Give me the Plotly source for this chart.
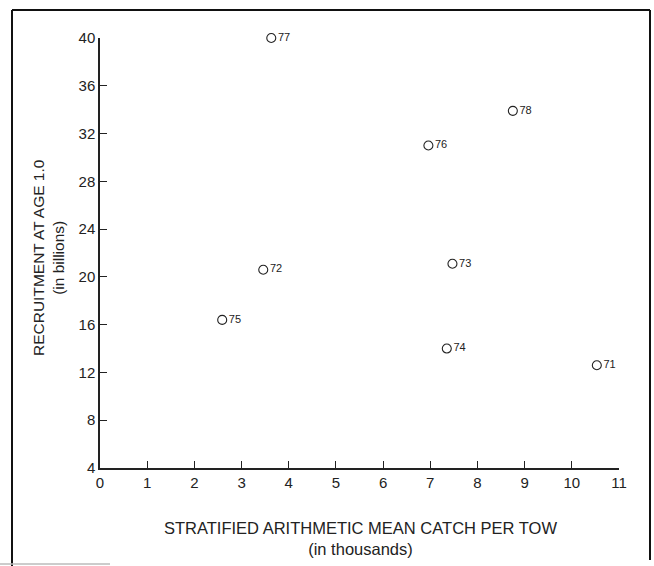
import plotly.graph_objects as go

years = ["71", "72", "73", "74", "75", "76", "77", "78"]
catch_per_tow = [10.53, 3.46, 7.47, 7.35, 2.59, 6.96, 3.63, 8.75]
recruitment = [12.6, 20.6, 21.1, 14.0, 16.4, 31.0, 40.0, 33.9]
x_ticks = list(range(0, 12))
y_ticks = list(range(4, 41, 4))

FONT = "Liberation Sans, Arial, Helvetica, sans-serif"
INK = "#222222"

fig = go.Figure()
fig.add_trace(go.Scatter(
    x=catch_per_tow, y=recruitment, text=years,
    mode="markers+text", textposition="middle right",
    marker=dict(symbol="circle-open", size=9, color=INK, line=dict(width=1.1, color=INK)),
    textfont=dict(family=FONT, size=11, color=INK),
    showlegend=False, cliponaxis=False,
))

W, H = 654, 566
L, R, T, B = 100, 35, 38, 98
pw, ph = W - L - R, H - T - B

def px2paper(px, py):
    return (px - L) / pw, (H - B - py) / ph

x0, yb = px2paper(12, 566)
x1, yt = px2paper(650, 10)
shapes = [
    dict(type="line", xref="paper", yref="paper", x0=x0, x1=x0, y0=yb, y1=yt, line=dict(color="#111", width=2)),
    dict(type="line", xref="paper", yref="paper", x0=x0, x1=x1, y0=yt, y1=yt, line=dict(color="#111", width=2)),
    dict(type="line", xref="paper", yref="paper", x0=x1, x1=x1, y0=yt, y1=px2paper(0, 560)[1], line=dict(color="#111", width=2)),
]
bx0, by = px2paper(0, 564)
bx1, _ = px2paper(110, 564)
shapes.append(dict(type="line", xref="paper", yref="paper", x0=bx0, x1=bx1, y0=by, y1=by, line=dict(color="#bbb", width=1.5)))

ytx, yty = px2paper(48, 258)
xtx, xty = px2paper(360, 538)
annotations = [
    dict(xref="paper", yref="paper", x=ytx, y=yty, text="RECRUITMENT AT AGE 1.0<br>(in billions)",
         textangle=-90, showarrow=False, font=dict(family=FONT, size=15.5, color=INK), xanchor="center", yanchor="middle"),
    dict(xref="paper", yref="paper", x=xtx, y=xty, text="STRATIFIED ARITHMETIC MEAN CATCH PER TOW<br>(in thousands)",
         showarrow=False, font=dict(family=FONT, size=16.5, color=INK), xanchor="center", yanchor="middle"),
]

fig.update_layout(
    width=W, height=H,
    margin=dict(l=L, r=R, t=T, b=B, pad=0),
    paper_bgcolor="white", plot_bgcolor="white",
    shapes=shapes, annotations=annotations,
    xaxis=dict(range=[0, 11], tickvals=x_ticks, ticktext=[str(v) for v in x_ticks],
               showline=True, linecolor=INK, linewidth=1.5, ticks="inside", ticklen=7, tickwidth=1,
               tickcolor=INK, showgrid=False, zeroline=False,
               tickfont=dict(family=FONT, size=15, color=INK)),
    yaxis=dict(range=[4, 40], tickvals=y_ticks, ticktext=[str(v) for v in y_ticks],
               showline=True, linecolor=INK, linewidth=1.5, ticks="inside", ticklen=7, tickwidth=1,
               tickcolor=INK, showgrid=False, zeroline=False,
               tickfont=dict(family=FONT, size=15, color=INK)),
)

fig.write_html("out.html", config={"displayModeBar": False},
               post_script="document.body.style.margin='0';document.body.style.overflow='hidden';")
